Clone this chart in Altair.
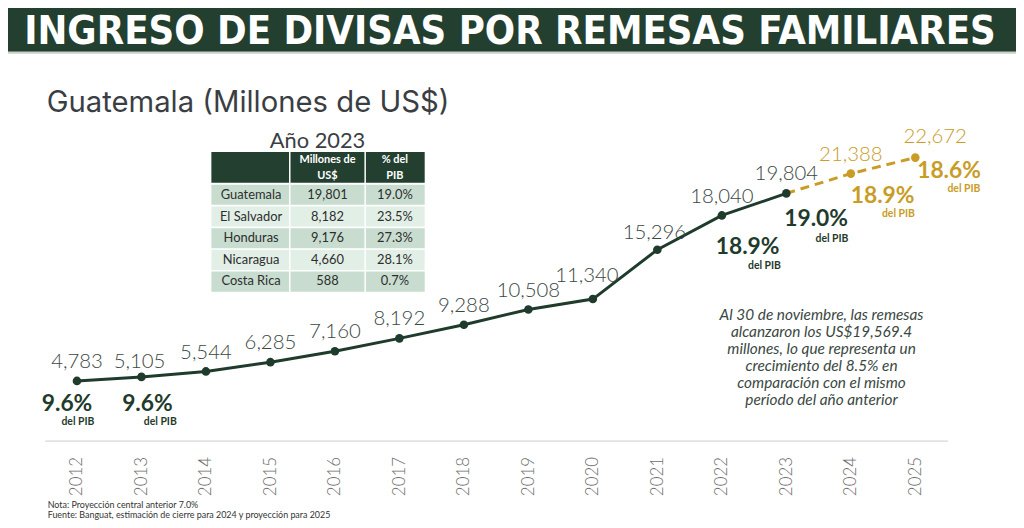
import altair as alt
import pandas as pd

# ---------------- data ----------------
years = list(range(2012, 2026))
values = [4783, 5105, 5544, 6285, 7160, 8192, 9288, 10508, 11340, 15296, 18040, 19804, 21388, 22672]
status = ["Observado"] * 12 + ["Proyección"] * 2

pct_years = [2012, 2013, 2022, 2023, 2024, 2025]
pct_labels = ["9.6%", "9.6%", "18.9%", "19.0%", "18.9%", "18.6%"]

countries = ["Guatemala", "El Salvador", "Honduras", "Nicaragua", "Costa Rica"]
remesas_2023 = [19801, 8182, 9176, 4660, 588]
pct_pib_2023 = ["19.0%", "23.5%", "27.3%", "28.1%", "0.7%"]

title_text = "INGRESO DE DIVISAS POR REMESAS FAMILIARES"
subtitle_text = "Guatemala (Millones de US$)"
table_title = "Año 2023"
header_col2 = ["Millones de", "US$"]
header_col3 = ["% del", "PIB"]
annotation_lines = [
    "Al 30 de noviembre, las remesas",
    "alcanzaron los US$19,569.4",
    "millones, lo que representa un",
    "crecimiento del 8.5% en",
    "comparación con el mismo",
    "período del año anterior",
]
footnote_1 = "Nota: Proyección central anterior 7.0%"
footnote_2 = "Fuente: Banguat, estimación de cierre para 2024 y proyección para 2025"

# ---------------- tables ----------------
df = pd.DataFrame({"year": years, "value": values, "status": status})
val_by_year = dict(zip(years, values))
pct_df = pd.DataFrame({
    "year": pct_years,
    "value": [val_by_year[y] for y in pct_years],
    "pct": pct_labels,
    "status": ["Observado" if y <= 2023 else "Proyección" for y in pct_years],
})
tbl = pd.DataFrame({"country": countries, "remesas": remesas_2023, "pct": pct_pib_2023})
one = pd.DataFrame({"k": [0]})

# ---------------- style ----------------
DARK = "#1f3b2c"
BANNER = "#233f30"
GOLD = "#c99c25"
LABEL = "#3a4842"
TEXT = "#3a3e43"
ROW_A = "#c8ddd0"
ROW_B = "#e2efe7"
FONT = "Lato"

OX, OY = 45, 120   # plot-area origin in page pixels
def px(rx):
    return rx - OX
def py(ry):
    return ry - OY

X_SCALE = alt.Scale(domain=[2011.5, 2025.5], nice=False, zero=False)
Y_SCALE = alt.Scale(domain=[0, 25590], nice=False)
X_AXIS = alt.Axis(
    values=years, format="d", labelAngle=-90, labelFontSize=17, labelFont=FONT,
    labelFontWeight=300, labelColor="#6e6e6e", labelPadding=16, ticks=False,
    grid=False, domainColor="#e3e3e3", domainWidth=2, title=None,
)
X = alt.X("year:Q", scale=X_SCALE, axis=X_AXIS)
Y = alt.Y("value:Q", scale=Y_SCALE, axis=None)

proj_color = lambda a, b: alt.condition("datum.status == 'Proyección'", alt.value(a), alt.value(b))

layers = []

# banner
layers.append(alt.Chart(one).mark_rect(color=BANNER).encode(
    x=alt.value(px(0)), x2=alt.value(px(1024)), y=alt.value(py(0)), y2=alt.value(py(50))))
layers.append(alt.Chart(one).mark_rule(color="#c9d0cc", strokeWidth=2).encode(
    x=alt.value(px(0)), x2=alt.value(px(1024)), y=alt.value(py(51))))
layers.append(alt.Chart(one).mark_text(
    text=title_text, font="DejaVu Sans Condensed, sans-serif",
    fontWeight="bold", fontSize=40, color="white", align="center", baseline="middle"
).encode(x=alt.value(px(514)), y=alt.value(py(30))))

# subtitle
layers.append(alt.Chart(one).mark_text(
    text=subtitle_text, font="Inter", fontSize=29.5, color=TEXT, align="left", baseline="middle"
).encode(x=alt.value(px(47)), y=alt.value(py(102))))

# ---- table ----
layers.append(alt.Chart(one).mark_text(
    text=table_title, font=FONT, fontSize=22, fontWeight=400, color=TEXT, align="center", baseline="middle"
).encode(x=alt.value(px(320)), y=alt.value(py(140))))
layers.append(alt.Chart(one).mark_rect(color=BANNER).encode(
    x=alt.value(px(213)), x2=alt.value(px(428)), y=alt.value(py(151)), y2=alt.value(py(182))))
layers.append(alt.Chart(one).mark_text(
    text=header_col2, font=FONT, fontWeight="bold", fontSize=11, color="white",
    align="center", baseline="middle", lineHeight=16
).encode(x=alt.value(px(330)), y=alt.value(py(159))))
layers.append(alt.Chart(one).mark_text(
    text=header_col3, font=FONT, fontWeight="bold", fontSize=11, color="white",
    align="center", baseline="middle", lineHeight=16
).encode(x=alt.value(px(398)), y=alt.value(py(159))))

ROW_Y = alt.Y("country:N", scale=alt.Scale(domain=countries, range=[py(184), py(292)],
                                            paddingInner=0.07, paddingOuter=0), axis=None)
tbase = alt.Chart(tbl).transform_window(rn="row_number()")
layers.append(tbase.mark_rect().encode(
    y=ROW_Y, x=alt.value(px(213)), x2=alt.value(px(428)),
    color=alt.condition("datum.rn % 2 == 1", alt.value(ROW_A), alt.value(ROW_B))))
layers.append(tbase.mark_text(font=FONT, fontSize=13, color="#2e2e2e", align="center").encode(
    y=ROW_Y, x=alt.value(px(253)), text="country:N"))
layers.append(tbase.mark_text(font=FONT, fontSize=13, color="#2e2e2e", align="center").encode(
    y=ROW_Y, x=alt.value(px(330)), text=alt.Text("remesas:Q", format=",")))
layers.append(tbase.mark_text(font=FONT, fontSize=13, color="#2e2e2e", align="center").encode(
    y=ROW_Y, x=alt.value(px(398)), text="pct:N"))
for sx in (292, 368):
    layers.append(alt.Chart(one).mark_rule(color="white", strokeWidth=1.5).encode(
        x=alt.value(px(sx)), y=alt.value(py(151)), y2=alt.value(py(293))))

# ---- main series ----
base = alt.Chart(df)
layers.append(base.transform_filter("datum.year <= 2023").mark_line(
    color=DARK, strokeWidth=3).encode(x=X, y=Y))
layers.append(base.transform_filter("datum.year >= 2023").mark_line(
    color=GOLD, strokeWidth=3, strokeDash=[9, 6]).encode(x=X, y=Y))
layers.append(base.mark_circle(size=75, opacity=1).encode(
    x=X, y=Y, color=proj_color(GOLD, DARK)))

# value labels
val_off = {2013: (-2, -15), 2020: (-6, -23), 2021: (-3, -17), 2025: (20, -21)}
default = [y for y in years if y not in val_off]
layers.append(base.transform_filter(alt.FieldOneOfPredicate(field="year", oneOf=default)).mark_text(
    font=FONT, fontWeight=300, fontSize=20.5, align="center", baseline="middle", dy=-19
).encode(x=X, y=Y, text=alt.Text("value:Q", format=","), color=proj_color(GOLD, LABEL)))
for yr, (dx, dy) in val_off.items():
    layers.append(base.transform_filter(f"datum.year == {yr}").mark_text(
        font=FONT, fontWeight=300, fontSize=20.5, align="center", baseline="middle", dx=dx, dy=dy
    ).encode(x=X, y=Y, text=alt.Text("value:Q", format=","), color=proj_color(GOLD, LABEL)))

# % del PIB labels
pct_off = {2012: (-10, 23), 2013: (6, 27), 2022: (26, 32), 2023: (30, 26), 2024: (32, 23), 2025: (34, 14)}
del_off = {2012: (1, 41), 2013: (19, 45), 2022: (43, 51), 2023: (46, 46), 2024: (48, 41), 2025: (49, 32)}
pbase = alt.Chart(pct_df)
for yr in pct_years:
    dx, dy = pct_off[yr]
    layers.append(pbase.transform_filter(f"datum.year == {yr}").mark_text(
        font=FONT, fontWeight="bold", fontSize=23, align="center", baseline="middle", dx=dx, dy=dy
    ).encode(x=X, y=Y, text="pct:N", color=proj_color(GOLD, DARK)))
    dx, dy = del_off[yr]
    layers.append(pbase.transform_filter(f"datum.year == {yr}").mark_text(
        text="del PIB", font=FONT, fontWeight="bold", fontSize=10.5, align="center",
        baseline="middle", dx=dx, dy=dy
    ).encode(x=X, y=Y, color=proj_color(GOLD, DARK)))

# annotation
layers.append(alt.Chart(one).mark_text(
    text=annotation_lines, font=FONT, fontStyle="italic", fontSize=15.5, color=LABEL,
    align="center", baseline="middle", lineHeight=17.3
).encode(x=alt.value(px(828)), y=alt.value(py(315))))

# footnotes
layers.append(alt.Chart(one).mark_text(
    text=footnote_1, font=FONT, fontSize=9, color="#333333", align="left", baseline="middle"
).encode(x=alt.value(px(48)), y=alt.value(py(507))))
layers.append(alt.Chart(one).mark_text(
    text=footnote_2, font=FONT, fontSize=9, color="#333333", align="left", baseline="middle"
).encode(x=alt.value(px(48)), y=alt.value(py(517))))

chart = alt.layer(*layers).resolve_scale(y="independent").properties(
    width=910, height=322,
    padding={"left": OX - 8, "top": OY - 8, "right": 1016 - (OX - 8) - 910, "bottom": 520 - (OY - 8) - 322},
    autosize=alt.AutoSizeParams(type="none"),
    background="white",
).configure_view(stroke=None)

chart.save("out.html", embed_options={"renderer": "svg", "actions": False})
